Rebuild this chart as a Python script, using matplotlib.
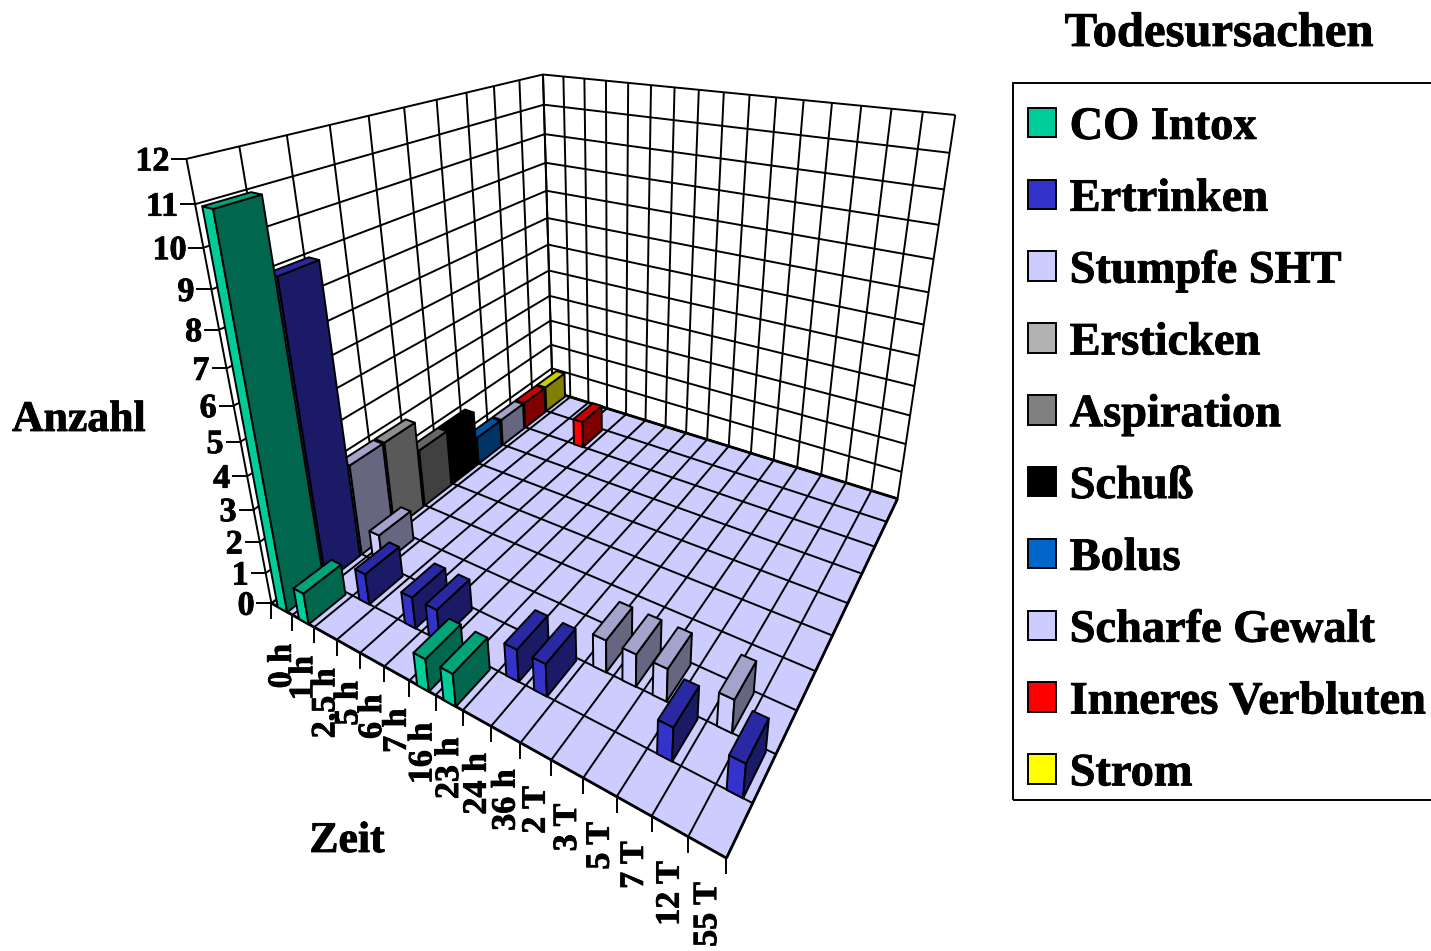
"""Todesursachen nach Zeit: 3D bar chart on a fitted perspective camera."""
import matplotlib
matplotlib.use("Agg")
import matplotlib.patheffects as pe
import matplotlib.pyplot as plt
import numpy as np
from matplotlib.lines import Line2D
from matplotlib.patches import Patch, Rectangle
from matplotlib.transforms import IdentityTransform
from mpl_toolkits.mplot3d.art3d import Line3DCollection, Poly3DCollection

WIDTH, HEIGHT = 1431, 951

zeit = ["0 h", "1 h", "2,5 h", "5 h", "6 h", "7 h", "16 h", "23 h", "24 h",
        "36 h", "2 T", "3 T", "5 T", "7 T", "12 T", "55 T"]
ursachen = ["CO Intox", "Ertrinken", "Stumpfe SHT", "Ersticken", "Aspiration",
            "Schuß", "Bolus", "Scharfe Gewalt", "Inneres Verbluten", "Strom"]
farben = ["#00CC99", "#3333CC", "#CCCCFF", "#B2B2B2", "#808080",
          "#000000", "#0066CC", "#CCCCFF", "#FF0000", "#FFFF00"]

co_intox = [11, 1, 0, 0, 0, 0, 1, 1, 0, 0, 0, 0, 0, 0, 0, 0]
ertrinken = [9, 0, 1, 0, 1, 1, 0, 0, 1, 1, 0, 0, 0, 1, 0, 1]
stumpfe_sht = [3, 1, 0, 0, 0, 0, 0, 0, 0, 0, 1, 1, 1, 0, 1, 0]
ersticken = [3, 0, 0, 0, 0, 0, 0, 0, 0, 0, 0, 0, 0, 0, 0, 0]
aspiration = [2, 0, 0, 0, 0, 0, 0, 0, 0, 0, 0, 0, 0, 0, 0, 0]
schuss = [2, 0, 0, 0, 0, 0, 0, 0, 0, 0, 0, 0, 0, 0, 0, 0]
bolus = [1, 0, 0, 0, 0, 0, 0, 0, 0, 0, 0, 0, 0, 0, 0, 0]
scharfe_gewalt = [1, 0, 0, 0, 0, 0, 0, 0, 0, 0, 0, 0, 0, 0, 0, 0]
inneres_verbluten = [1, 0, 0, 1, 0, 0, 0, 0, 0, 0, 0, 0, 0, 0, 0, 0]
strom = [1, 0, 0, 0, 0, 0, 0, 0, 0, 0, 0, 0, 0, 0, 0, 0]
anzahl = [co_intox, ertrinken, stumpfe_sht, ersticken, aspiration,
          schuss, bolus, scharfe_gewalt, inneres_verbluten, strom]

N_X, N_Y, N_Z = len(zeit), len(ursachen), 12
FONT = "Liberation Serif"
LW = 1.4
HEAVY = [pe.withStroke(linewidth=0.6, foreground="black")]

# camera calibration: box position -> pixel position (y down)
front_px = [(272, 603), (292, 615), (313, 627), (337, 640), (359, 653), (385, 667),
            (410, 682), (436, 695), (462, 710), (491, 726), (521, 743), (552, 760),
            (583, 777), (617, 797), (652, 816), (688, 837), (726, 858)]
calib = [((k, 0, 0), p) for k, p in enumerate(front_px)] + [
    ((16, 1, 0), (752, 803)), ((16, 2, 0), (776, 753)), ((16, 3, 0), (796, 712)),
    ((16, 4, 0), (815, 671)), ((16, 5, 0), (833, 635)), ((16, 10, 0), (897, 499)),
    ((16, 10, 6), (925, 325)), ((16, 10, 12), (955, 114)), ((8, 10, 12), (724, 93)),
    ((0, 10, 12), (542, 75)), ((0, 10, 0), (553, 391)), ((0, 10, 1), (552, 368)),
    ((0, 0, 12), (187, 158)), ((0, 0, 11), (195, 204)), ((0, 0, 6), (234, 406)),
]


def fit_camera(points):
    """Direct linear transform, returns a 3x4 matrix giving display pixels."""
    scale = np.diag([1 / N_X, 1 / N_Y, 1 / N_Z, 1.0])
    rows = []
    for (x, y, z), (u, v) in points:
        w = scale @ np.array([x, y, z, 1.0])
        u, v = u / 1000, v / 1000
        rows.append(np.r_[w, 0, 0, 0, 0, -u * w])
        rows.append(np.r_[0, 0, 0, 0, w, -v * w])
    cam = np.linalg.svd(np.array(rows))[2][-1].reshape(3, 4)
    flip = np.array([[1000, 0, 0], [0, -1000, HEIGHT], [0, 0, 1.0]])
    return flip @ cam @ scale


CAMERA = fit_camera(calib)


def to_pixels(x, y, z):
    h = CAMERA @ np.array([x, y, z, 1.0])
    return h[0] / h[2], h[1] / h[2]


fig = plt.figure(figsize=(WIDTH / 100, HEIGHT / 100), dpi=100, facecolor="white")
ax = fig.add_axes([0.07, 0, 0.7, 1], projection="3d")
ax.set_axis_off()
ax.computed_zorder = False


def camera_proj():
    to_view = ax.transData.inverted().get_matrix()
    p = to_view @ CAMERA
    return np.vstack([p[0], p[1], [0, 0, 1, 0], p[2]])


ax.get_proj = camera_proj


def add_polys(polys, face, zorder, lw=LW):
    coll = Poly3DCollection(polys, facecolors=face, edgecolors="black",
                            linewidths=lw, zorder=zorder)
    ax.add_collection3d(coll)


def scaled(color, factor):
    rgb = np.array(matplotlib.colors.to_rgb(color)) * factor
    return tuple(rgb)


# walls and floor
add_polys([[(0, 0, 0), (0, N_Y, 0), (0, N_Y, N_Z), (0, 0, N_Z)]], "white", 1, 0)
add_polys([[(0, N_Y, 0), (N_X, N_Y, 0), (N_X, N_Y, N_Z), (0, N_Y, N_Z)]], "white", 1, 0)
add_polys([[(0, 0, 0), (N_X, 0, 0), (N_X, N_Y, 0), (0, N_Y, 0)]], "#CCCCFF", 1, 0)

grid = []
for k in range(N_Z + 1):
    grid.append([(0, 0, k), (0, N_Y, k)])
    grid.append([(0, N_Y, k), (N_X, N_Y, k)])
for k in range(N_Y + 1):
    grid.append([(0, k, 0), (0, k, N_Z)])
    grid.append([(0, k, 0), (N_X, k, 0)])
for k in range(N_X + 1):
    grid.append([(k, N_Y, 0), (k, N_Y, N_Z)])
    grid.append([(k, 0, 0), (k, N_Y, 0)])
ax.add_collection3d(Line3DCollection(grid, colors="black", linewidths=LW, zorder=2))
edges = [[(0, 0, 0), (N_X, 0, 0)], [(N_X, 0, 0), (N_X, N_Y, 0)], [(0, N_Y, 0), (N_X, N_Y, 0)]]
ax.add_collection3d(Line3DCollection(edges, colors="black", linewidths=2.0, zorder=2))

# bars, back row first, and from the far end of each row
BAR_X0, BAR_X1 = 0.28, 0.73
BAR_Y0, BAR_Y1 = 0.0, 0.95
order = 3
for s in range(N_Y - 1, -1, -1):
    col = farben[s]
    for c, value in enumerate(anzahl[s]):
        if value == 0:
            continue
        x0, x1 = c + BAR_X0, c + BAR_X1
        y0, y1 = s + BAR_Y0, s + BAR_Y1
        z = value
        add_polys([[(x0, y0, 0), (x1, y0, 0), (x1, y0, z), (x0, y0, z)]], col, order)
        add_polys([[(x1, y0, 0), (x1, y1, 0), (x1, y1, z), (x1, y0, z)]], scaled(col, 0.5), order)
        add_polys([[(x0, y0, z), (x1, y0, z), (x1, y1, z), (x0, y1, z)]], scaled(col, 0.8), order)
        order += 1

ident = IdentityTransform()

# value axis ticks and labels
for k in range(N_Z + 1):
    px, py = to_pixels(0, 0, k)
    fig.add_artist(Line2D([px - 14, px], [py, py], color="black", lw=LW, transform=ident))
    fig.text(px - 17, py - 3, str(k), transform=ident, family=FONT, weight="bold",
             fontsize=24.5, ha="right", va="center", path_effects=HEAVY)

# time axis ticks and labels
for k in range(N_X + 1):
    px, py = to_pixels(k, 0, 0)
    fig.add_artist(Line2D([px, px], [py, py - 15], color="black", lw=LW, transform=ident))
for k, label in enumerate(zeit):
    px, py = to_pixels(k + 0.5, 0, 0)
    fig.text(px + 0.5, py - 35, label, transform=ident, family=FONT, weight="bold",
             fontsize=24.5, rotation=90, ha="center", va="top", path_effects=HEAVY)

fig.text(12 / WIDTH, 1 - 420 / HEIGHT, "Anzahl", family=FONT, weight="bold",
         fontsize=31.5, ha="left", va="center", path_effects=HEAVY)
fig.text(347 / WIDTH, 1 - 841 / HEIGHT, "Zeit", family=FONT, weight="bold",
         fontsize=31.5, ha="center", va="center", path_effects=HEAVY)
fig.text(1219 / WIDTH, 1 - 34 / HEIGHT, "Todesursachen", family=FONT, weight="bold",
         fontsize=35, ha="center", va="center", path_effects=HEAVY)

# legend frame runs past the right edge of the figure
fig.add_artist(Rectangle((1013, HEIGHT - 800), 500, 717, facecolor="none",
                         edgecolor="black", linewidth=LW, transform=ident))
handles = [Patch(facecolor=c, edgecolor="black", linewidth=LW) for c in farben]
leg = fig.legend(handles, ursachen, loc="upper left",
                 bbox_to_anchor=(1014 / WIDTH, 1 - 93 / HEIGHT), borderaxespad=0,
                 prop={"family": FONT, "weight": "bold", "size": 33.4},
                 frameon=False, handlelength=0.6, handleheight=0.6, handletextpad=0.3,
                 labelspacing=0.643, borderpad=0.3)
for text in leg.get_texts():
    text.set_path_effects(HEAVY)

fig.savefig("out.png", dpi=100)
